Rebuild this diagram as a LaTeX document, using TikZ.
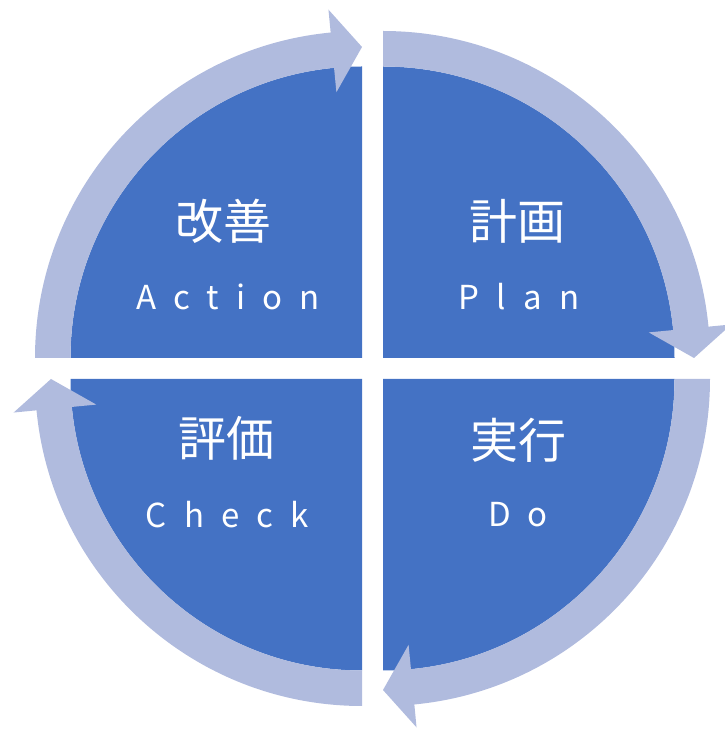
\documentclass[tikz,border=0pt]{standalone}
\usepackage{fontspec}
\setmainfont{Noto Sans CJK JP}
\newfontfamily\spacedfont[LetterSpace=52]{Noto Sans CJK JP}
\definecolor{quadblue}{RGB}{68,114,196}
\definecolor{arrowblue}{RGB}{176,187,222}
\tikzset{
  quad/.style={fill=quadblue, draw=none},
  cyclearrow/.style={fill=arrowblue, draw=none},
  kanji/.style={text=white, inner sep=0pt, font=\fontsize{48}{50}\selectfont},
  roman/.style={text=white, inner sep=0pt, font=\spacedfont\fontsize{33}{36}\selectfont}
}
\begin{document}
\begin{tikzpicture}[x=1pt, y=1pt]
  \useasboundingbox (0,0) rectangle (724,729);

  % quadrants and arrows, clockwise from top left
  \foreach \cx/\cy/\turn in {362/371/0, 383/371/-90, 383/350/-180, 362/350/-270} {
    \begin{scope}[shift={(\cx,\cy)}, rotate=\turn]
      \fill[quad] (0,0) -- (180:291.5) arc[start angle=180, end angle=90, radius=291.5] -- cycle;
      \fill[cyclearrow] (180:291.5) -- (180:327)
        arc[start angle=180, end angle=95.5, radius=327]
        -- (95.5:350) -- (90:311) -- (95.5:267) -- (95.5:291.5)
        arc[start angle=95.5, end angle=180, radius=291.5] -- cycle;
    \end{scope}
  }

  % labels
  \node[kanji] (act) at (223.5,507.5) {改善};
  \node[roman] (actEn) at (228,432) {Action};
  \node[kanji] (plan) at (517.5,508) {計画};
  \node[roman] (planEn) at (519,432) {Plan};
  \node[kanji] (chk) at (226,290.5) {評価};
  \node[roman] (chkEn) at (227.5,214) {Check};
  \node[kanji] (do) at (518,289) {実行};
  \node[roman] (doEn) at (518,214) {Do};
\end{tikzpicture}
\end{document}
